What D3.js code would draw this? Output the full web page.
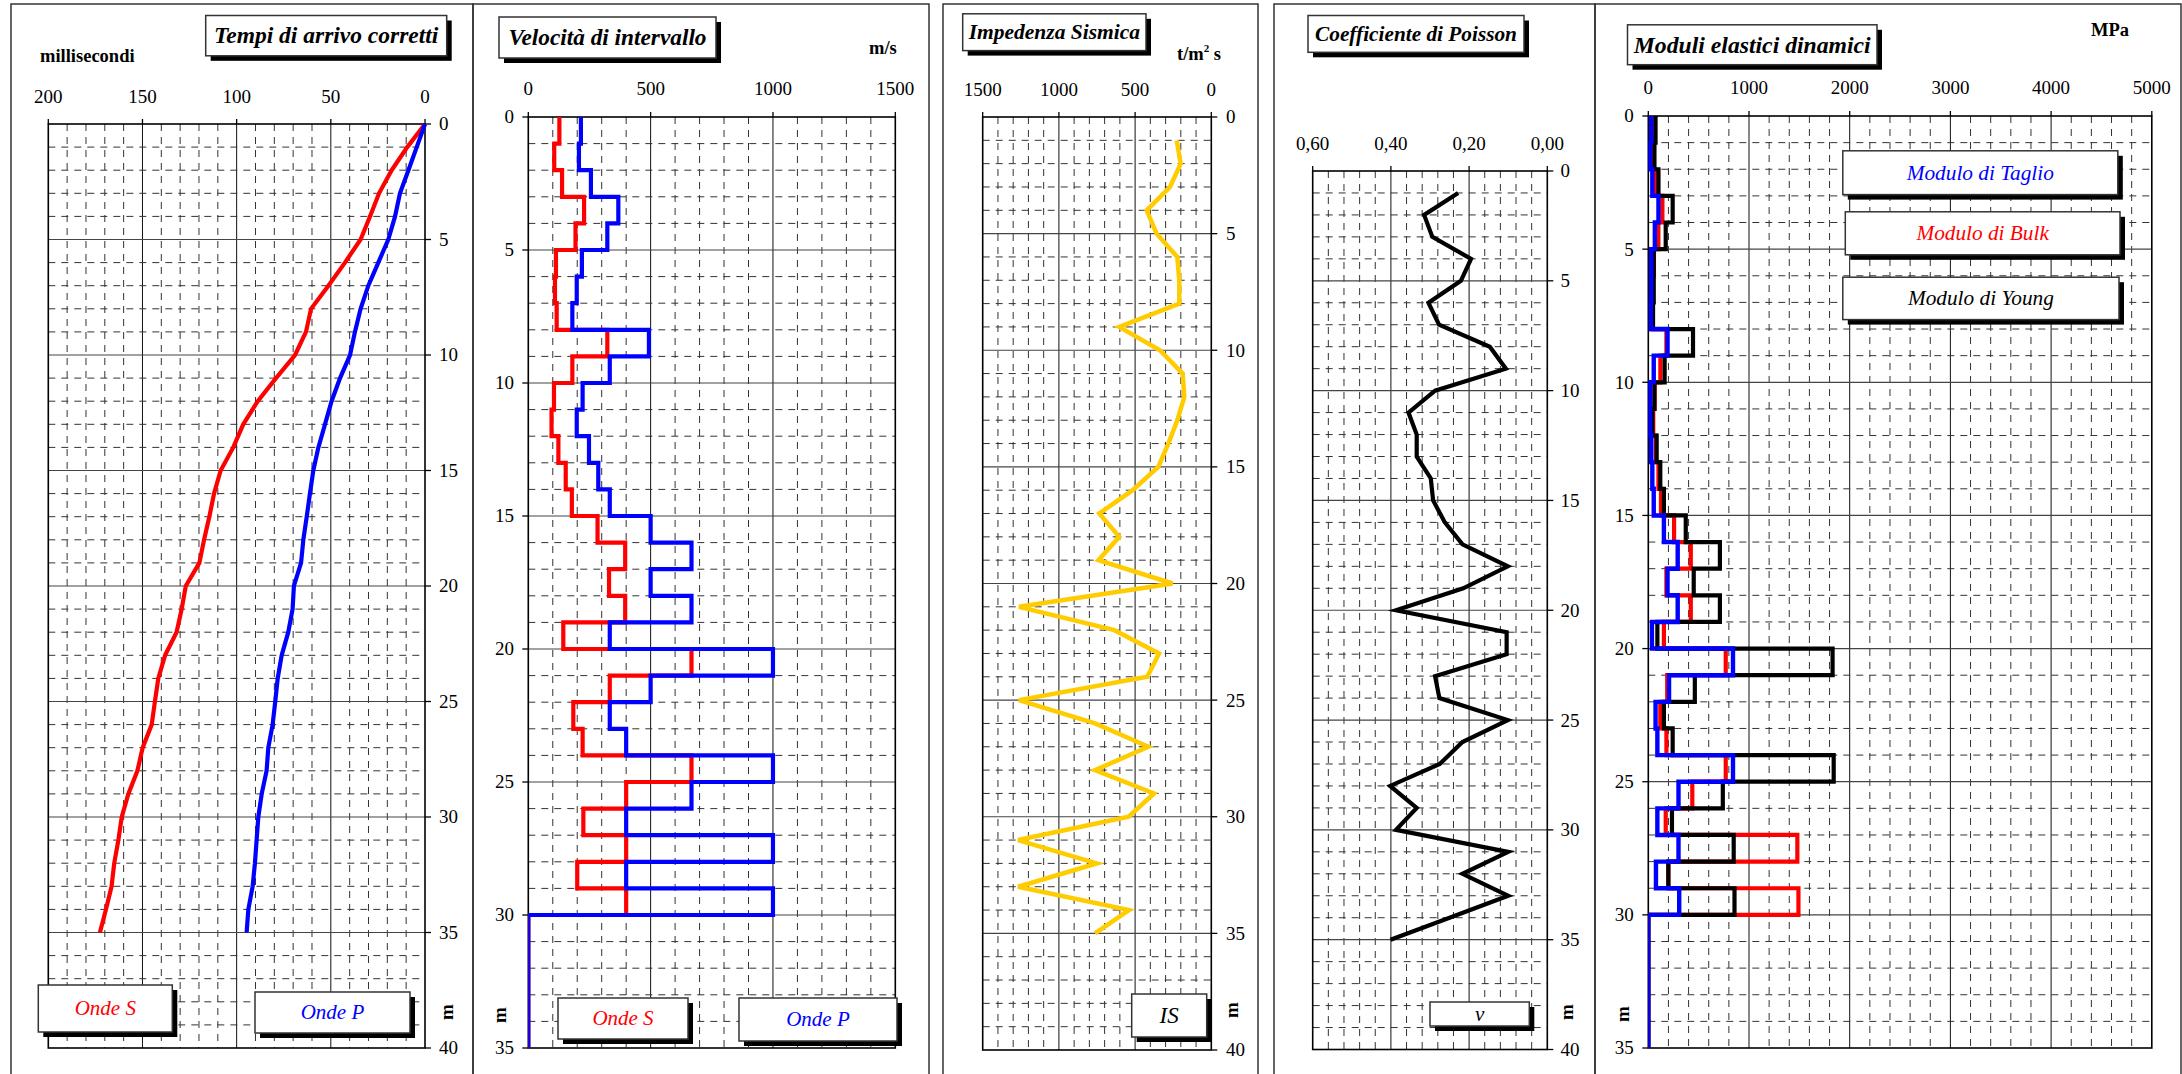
<!DOCTYPE html>
<html>
<head>
<meta charset="utf-8">
<script src="https://cdn.jsdelivr.net/npm/d3@7"></script>
<style>
  html, body { margin: 0; padding: 0; background: #fff; }
  svg { display: block; }
  text { font-family: "Liberation Serif", "Times New Roman", serif; fill: #000; }
</style>
</head>
<body>
<svg id="chart" width="2182" height="1074"></svg>
<script>
// ---------- Tempi di arrivo corretti (ms vs depth) ----------
const pickDepths = [0,1,2,3,4,5,6,7,8,9,10,11,12,13,14,15,16,17,18,19,20,21,22,23,24,25,26,27,28,29,30,31,32,33,34,35];
const tempiS = [0,9.4,17.7,24.4,29.2,34.2,42.5,51.3,60.5,63.2,69,79.1,88.8,96.5,101.8,108.5,112,114.5,117.3,119.8,127,129.2,131.9,138,141.6,143.4,145.1,149.9,152.7,157.5,161,162.8,165,166.4,169.4,172.6];
const tempiP = [0,4.4,8.8,13.3,15.9,19.5,24.8,30.1,34.2,37.2,39.8,45.1,49.6,53.1,56.6,59.3,61.1,62.8,64.6,65.8,69.6,70.3,72.6,76.1,78.2,79.5,80.9,83.2,84.1,86.7,88.5,89.4,90.3,91.5,93.8,94.7];
const tempiTicks = [200,150,100,50,0];
const tempiTickLabels = ["200","150","100","50","0"];

// ---------- Layers (interval velocities and elastic moduli) ----------
const layerTop    = [0,1,2,3,4,5,6,7,8,9,10,11,12,13,14,15,16,17,18,19,20,21,22,23,24,25,26,27,28,29,30];
const layerBottom = [1,2,3,4,5,6,7,8,9,10,11,12,13,14,15,16,17,18,19,20,21,22,23,24,25,26,27,28,29,30,35];
const velS = [127,106,138,228,193,113,109,116,323,180,105,95,123,153,178,283,396,330,396,143,667,333,184,222,667,400,225,400,200,400,0];
const velP = [215,207,256,368,323,219,198,180,493,333,222,198,248,286,333,500,667,500,667,333,1000,500,333,400,1000,667,400,1000,400,1000,0];
const velTicks = [0,500,1000,1500];
const velTickLabels = ["0","500","1000","1500"];

const modTaglio = [29,18,40,101,65,29,29,25,191,54,18,18,29,40,54,155,292,191,292,36,841,206,72,90,841,300,90,300,76,307,0];
const modBulk   = [44,50,65,140,100,56,42,30,180,120,62,49,74,101,126,256,422,180,422,155,769,188,119,180,769,437,173,1480,199,1491,0];
const modYoung  = [72,61,101,242,173,54,54,47,444,162,61,40,83,119,155,372,711,451,711,90,1830,462,155,242,1841,740,235,848,199,856,0];
const modTicks = [0,1000,2000,3000,4000,5000];
const modTickLabels = ["0","1000","2000","3000","4000","5000"];

// ---------- Impedenza sismica and Poisson ratio (point values) ----------
const sampleDepths = [1,2,3,4,5,6,7,8,9,10,11,12,13,14,15,16,17,18,19,20,21,22,23,24,25,26,27,28,29,30,31,32,33,34,35];
const impedenza = [227,201,271,424,359,223,210,210,604,337,188,177,223,282,348,516,735,604,741,254,1262,636,343,420,1262,763,413,763,376,542,1268,752,1268,540,763];
const impTicks = [1500,1000,500,0];
const impTickLabels = ["1500","1000","500","0"];

const poisson = [0.228,0.315,0.294,0.195,0.221,0.304,0.277,0.147,0.106,0.287,0.355,0.334,0.334,0.298,0.292,0.262,0.217,0.101,0.215,0.387,0.104,0.104,0.287,0.276,0.101,0.217,0.275,0.402,0.334,0.387,0.100,0.217,0.100,0.250,0.401];
const poissonTicks = [0.6,0.4,0.2,0];
const poissonTickLabels = ["0,60","0,40","0,20","0,00"];

// depth axis labels
const depthTicks40 = [0,5,10,15,20,25,30,35,40];
const depthTicks35 = [0,5,10,15,20,25,30,35];

const svg = d3.select("#chart");
const INK = "#000";

// ---------- panel frames ----------
function frame(x0, x1) {
  svg.append("rect")
    .attr("x", x0).attr("y", 4)
    .attr("width", x1 - x0).attr("height", 1090)
    .attr("fill", "none").attr("stroke", "#333").attr("stroke-width", 1.5);
}
frame(11, 473);
frame(473, 929);
frame(943, 1258);
frame(1274, 1595);
frame(1595, 2181);

// ---------- a depth track with dashed grid ----------
let clipId = 0;
function track(c) {
  const g = svg.append("g");
  const x = d3.scaleLinear().domain(c.xDomain).range([c.left, c.right]);
  const y = d3.scaleLinear().domain([0, c.depthMax]).range([c.top, c.bottom]);
  const lo = Math.min(...c.xDomain), hi = Math.max(...c.xDomain);

  // vertical grid
  const nX = Math.round((hi - lo) / c.xMinor);
  const perMajX = Math.round(c.xMajor / c.xMinor);
  for (let i = 1; i < nX; i++) {
    const v = lo + i * c.xMinor;
    const major = i % perMajX === 0;
    g.append("line")
      .attr("x1", x(v)).attr("x2", x(v)).attr("y1", c.top).attr("y2", c.bottom)
      .attr("stroke", major ? "#111" : "#333")
      .attr("stroke-width", 1)
      .attr("stroke-dasharray", major ? null : "7,6");
  }
  // horizontal grid
  for (let d = 1; d < c.depthMax; d++) {
    const major = d % 5 === 0;
    g.append("line")
      .attr("x1", c.left).attr("x2", c.right).attr("y1", y(d)).attr("y2", y(d))
      .attr("stroke", major ? "#444" : "#333")
      .attr("stroke-width", major ? 1.2 : 1)
      .attr("stroke-dasharray", major ? null : "7,6");
  }
  // plot border
  g.append("rect")
    .attr("x", c.left).attr("y", c.top)
    .attr("width", c.right - c.left).attr("height", c.bottom - c.top)
    .attr("fill", "none").attr("stroke", INK).attr("stroke-width", 1.6);

  // top value ticks and labels
  c.ticks.forEach((v, i) => {
    g.append("line")
      .attr("x1", x(v)).attr("x2", x(v)).attr("y1", c.top - 5).attr("y2", c.top)
      .attr("stroke", INK).attr("stroke-width", 1.3);
    g.append("text")
      .attr("x", x(v)).attr("y", c.labelBase)
      .attr("text-anchor", "middle")
      .attr("font-size", 19)
      .text(c.tickLabels[i]);
  });

  // depth ticks and labels
  c.depthTicks.forEach(d => {
    const right = c.depthSide === "right";
    const x0 = right ? c.right : c.left;
    g.append("line")
      .attr("x1", x0).attr("x2", right ? x0 + 6 : x0 - 6)
      .attr("y1", y(d)).attr("y2", y(d))
      .attr("stroke", INK).attr("stroke-width", 1.3);
    g.append("text")
      .attr("x", c.depthLabelX).attr("y", y(d)).attr("dy", "0.34em")
      .attr("text-anchor", right ? "start" : "end")
      .attr("font-size", 19)
      .text(d);
  });

  // vertical unit label "m"
  g.append("text")
    .attr("transform", `translate(${c.mX},${c.mY}) rotate(-90)`)
    .attr("text-anchor", "middle").attr("dy", "0.35em")
    .attr("font-size", 19).attr("font-weight", "bold")
    .text("m");

  const id = "clip" + (clipId++);
  svg.append("clipPath").attr("id", id)
    .append("rect").attr("x", c.left).attr("y", c.top)
    .attr("width", c.right - c.left).attr("height", c.bottom - c.top);

  return { x, y, clip: "url(#" + id + ")" };
}

// ---------- boxes ----------
function box(x0, y0, x1, y1, label, color, size, bold) {
  svg.append("rect")
    .attr("x", x0 + 5).attr("y", y0 + 5)
    .attr("width", x1 - x0).attr("height", y1 - y0)
    .attr("fill", "#000");
  svg.append("rect")
    .attr("x", x0).attr("y", y0)
    .attr("width", x1 - x0).attr("height", y1 - y0)
    .attr("fill", "#fff").attr("stroke", "#333").attr("stroke-width", 1.5);
  svg.append("text")
    .attr("x", (x0 + x1) / 2).attr("y", (y0 + y1) / 2).attr("dy", "0.33em")
    .attr("text-anchor", "middle")
    .attr("font-size", size)
    .attr("font-style", "italic")
    .attr("font-weight", bold ? "bold" : "normal")
    .style("fill", color)
    .text(label);
}

function unitLabel(x, yBase, txt) {
  svg.append("text").attr("x", x).attr("y", yBase)
    .attr("font-size", 18.5).attr("font-weight", "bold").text(txt);
}

// polyline of points
function curve(t, xs, ys, color, width) {
  const pts = xs.map((v, i) => [t.x(v), t.y(ys[i])]);
  svg.append("path")
    .attr("d", d3.line()(pts))
    .attr("fill", "none").attr("stroke", color)
    .attr("stroke-width", width)
    .attr("stroke-linejoin", "miter");
}

// stepped log: one constant value per layer
function steps(t, values, color, width) {
  const pts = [];
  values.forEach((v, i) => {
    pts.push([t.x(v), t.y(layerTop[i])]);
    pts.push([t.x(v), t.y(layerBottom[i])]);
  });
  svg.append("path")
    .attr("d", d3.line()(pts))
    .attr("clip-path", t.clip)
    .attr("fill", "none").attr("stroke", color)
    .attr("stroke-width", width)
    .attr("stroke-linejoin", "miter")
    .attr("stroke-linecap", "square");
}

// ---------- 1: Tempi di arrivo corretti ----------
const t1 = track({
  left: 48.3, right: 425, top: 124, bottom: 1048,
  xDomain: [200, 0], depthMax: 40, xMinor: 10, xMajor: 50,
  ticks: tempiTicks, tickLabels: tempiTickLabels, labelBase: 103,
  depthTicks: depthTicks40, depthSide: "right", depthLabelX: 439,
  mX: 446, mY: 1012
});
curve(t1, tempiS, pickDepths, "#ff0000", 4.2);
curve(t1, tempiP, pickDepths, "#0000ff", 4.2);
box(205.7, 15.5, 446.7, 55.8, "Tempi di arrivo corretti", "#000", 23.5, true);
unitLabel(40, 62, "millisecondi");
box(38.3, 985, 172.3, 1032, "Onde S", "#ff0000", 21, false);
box(255, 992, 410, 1033, "Onde P", "#0000ff", 21, false);

// ---------- 2: Velocità di intervallo ----------
const t2 = track({
  left: 528.3, right: 895.3, top: 117, bottom: 1048,
  xDomain: [0, 1500], depthMax: 35, xMinor: 100, xMajor: 500,
  ticks: velTicks, tickLabels: velTickLabels, labelBase: 94.7,
  depthTicks: depthTicks35, depthSide: "left", depthLabelX: 514,
  mX: 499, mY: 1015
});
steps(t2, velS, "#ff0000", 4.2);
steps(t2, velP, "#0000ff", 4.2);
box(499, 17, 716, 58, "Velocità di intervallo", "#000", 23.3, true);
unitLabel(869, 54, "m/s");
box(558, 998, 688, 1039, "Onde S", "#ff0000", 21, false);
box(739, 998, 897, 1041, "Onde P", "#0000ff", 21, false);

// ---------- 3: Impedenza Sismica ----------
const t3 = track({
  left: 982.7, right: 1211.3, top: 117, bottom: 1050,
  xDomain: [1500, 0], depthMax: 40, xMinor: 100, xMajor: 500,
  ticks: impTicks, tickLabels: impTickLabels, labelBase: 96.4,
  depthTicks: depthTicks40, depthSide: "right", depthLabelX: 1226,
  mX: 1231, mY: 1010
});
curve(t3, impedenza, sampleDepths, "#ffcc00", 4.5);
box(962.7, 13.8, 1146, 50.6, "Impedenza Sismica", "#000", 21.5, true);
{
  const u = svg.append("text").attr("x", 1177).attr("y", 60)
    .attr("font-size", 18.5).attr("font-weight", "bold");
  u.append("tspan").text("t/m");
  u.append("tspan").attr("font-size", 11).attr("dy", -8).text("2");
  u.append("tspan").attr("dy", 8).text(" s");
}
box(1131.7, 994, 1206.7, 1037, "IS", "#000", 23, false);

// ---------- 4: Coefficiente di Poisson ----------
const t4 = track({
  left: 1312.7, right: 1547.3, top: 171, bottom: 1049.5,
  xDomain: [0.6, 0], depthMax: 40, xMinor: 0.04, xMajor: 0.2,
  ticks: poissonTicks, tickLabels: poissonTickLabels, labelBase: 150,
  depthTicks: depthTicks40, depthSide: "right", depthLabelX: 1560.5,
  mX: 1566, mY: 1012
});
curve(t4, poisson, sampleDepths, "#000", 4.2);
box(1308, 15.5, 1524, 52.3, "Coefficiente di Poisson", "#000", 21.3, true);
box(1430, 1002, 1529.3, 1026, "ν", "#000", 21, false);

// ---------- 5: Moduli elastici dinamici ----------
const t5 = track({
  left: 1648.3, right: 2151.8, top: 116, bottom: 1048,
  xDomain: [0, 5000], depthMax: 35, xMinor: 200, xMajor: 1000,
  ticks: modTicks, tickLabels: modTickLabels, labelBase: 93.7,
  depthTicks: depthTicks35, depthSide: "left", depthLabelX: 1633.7,
  mX: 1622, mY: 1014
});
steps(t5, modBulk, "#ff0000", 4.2);
steps(t5, modYoung, "#000", 4.2);
steps(t5, modTaglio, "#0000ff", 4.4);
box(1627.5, 24.8, 1877, 64.7, "Moduli elastici dinamici", "#000", 23.7, true);
unitLabel(2091, 36, "MPa");
box(1842.8, 150.8, 2117.8, 194.6, "Modulo di Taglio", "#0000ff", 21.3, false);
box(1845.3, 211.8, 2120, 254.8, "Modulo di Bulk", "#ff0000", 21.3, false);
box(1842.8, 277.2, 2119, 319.6, "Modulo di Young", "#000", 21.3, false);
</script>
</body>
</html>
